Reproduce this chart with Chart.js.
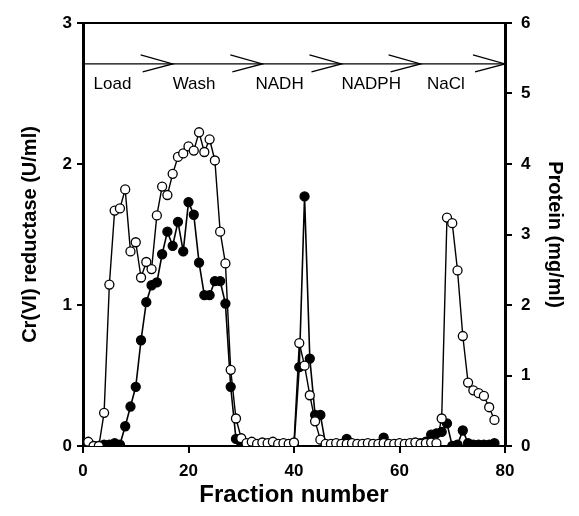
<!DOCTYPE html>
<html>
<head>
<meta charset="utf-8">
<script src="https://cdn.jsdelivr.net/npm/chart.js@4.4.1/dist/chart.umd.min.js"></script>
<style>
    html, body { margin: 0; padding: 0; background: #fff; }
</style>
</head>
<body>
<canvas id="chart" width="579" height="516"></canvas>
<script>
// Fraction numbers (x)
const fractions = [
    1, 2, 3, 4, 5, 6, 7, 8, 9, 10, 11, 12, 13, 14, 15, 16, 17, 18, 19, 20,
    21, 22, 23, 24, 25, 26, 27, 28, 29, 30, 31, 32, 33, 34, 35, 36, 37, 38, 39, 40,
    41, 42, 43, 44, 45, 46, 47, 48, 49, 50, 51, 52, 53, 54, 55, 56, 57, 58, 59, 60,
    61, 62, 63, 64, 65, 66, 67, 68, 69, 70, 71, 72, 73, 74, 75, 76, 77, 78
];

// Protein (mg/ml), open circles, right axis
const proteinMgMl = [
    0.06, 0.00, 0.00, 0.47, 2.29, 3.34, 3.37, 3.64, 2.76, 2.89,
    2.39, 2.61, 2.51, 3.27, 3.68, 3.56, 3.86, 4.10, 4.15, 4.25,
    4.19, 4.45, 4.17, 4.35, 4.05, 3.04, 2.59, 1.08, 0.39, 0.11,
    0.04, 0.06, 0.03, 0.05, 0.04, 0.06, 0.03, 0.04, 0.03, 0.05,
    1.46, 1.14, 0.72, 0.35, 0.09, 0.03, 0.03, 0.04, 0.03, 0.03,
    0.04, 0.03, 0.03, 0.04, 0.03, 0.03, 0.04, 0.03, 0.03, 0.04,
    0.03, 0.04, 0.05, 0.03, 0.04, 0.05, 0.04, 0.39, 3.24, 3.16,
    2.49, 1.56, 0.90, 0.79, 0.75, 0.71, 0.55, 0.37
];

// Cr(VI) reductase (U/ml), filled circles, left axis
const reductaseUMl = [
    0.00, 0.00, 0.00, 0.01, 0.01, 0.02, 0.01, 0.14, 0.28, 0.42,
    0.75, 1.02, 1.14, 1.16, 1.36, 1.52, 1.42, 1.59, 1.38, 1.73,
    1.64, 1.30, 1.07, 1.07, 1.17, 1.17, 1.01, 0.42, 0.05, 0.00,
    0.00, 0.00, 0.00, 0.00, 0.00, 0.00, 0.00, 0.00, 0.00, 0.00,
    0.56, 1.77, 0.62, 0.22, 0.22, 0.01, 0.00, 0.00, 0.01, 0.05,
    0.01, 0.01, 0.01, 0.01, 0.01, 0.01, 0.06, 0.01, 0.01, 0.01,
    0.01, 0.01, 0.01, 0.02, 0.03, 0.08, 0.09, 0.10, 0.16, 0.00,
    0.01, 0.11, 0.02, 0.01, 0.01, 0.01, 0.01, 0.02
];

const xTicks = [0, 20, 40, 60, 80];
const leftTicks = [0, 1, 2, 3];
const rightTicks = [0, 1, 2, 3, 4, 5, 6];

// Elution steps drawn across the top (fraction positions, left-axis level)
const stageNames = ['Load', 'Wash', 'NADH', 'NADPH', 'NaCl'];
const stageTextAt = [2, 17, 32.7, 49, 65.2];
const stageArrowEnd = [17, 34, 49, 64, 80];
const stageLineLevel = 2.71;
const stageTextLevel = 2.53;

const FONT = '"Liberation Sans", Arial, Helvetica, sans-serif';

function toPoints(ys) {
    return fractions.map((f, i) => ({ x: f, y: ys[i] }));
}

const stagePlugin = {
    id: 'stages',
    afterDatasetsDraw(chart) {
        const { ctx, chartArea, scales } = chart;
        const x = scales.x, y = scales.y;
        ctx.save();
        ctx.strokeStyle = '#000';
        // top frame line
        ctx.lineWidth = 2;
        ctx.beginPath();
        ctx.moveTo(chartArea.left, chartArea.top);
        ctx.lineTo(chartArea.right, chartArea.top);
        ctx.stroke();
        // step line with arrow heads
        const ly = y.getPixelForValue(stageLineLevel);
        ctx.lineWidth = 1.3;
        ctx.beginPath();
        ctx.moveTo(x.getPixelForValue(0), ly);
        ctx.lineTo(x.getPixelForValue(80), ly);
        ctx.stroke();
        stageArrowEnd.forEach(f => {
            const tx = x.getPixelForValue(f);
            ctx.beginPath();
            ctx.moveTo(tx - 32, ly - 9);
            ctx.lineTo(tx, ly);
            ctx.lineTo(tx - 30, ly + 8);
            ctx.stroke();
        });
        ctx.fillStyle = '#000';
        ctx.font = '17px ' + FONT;
        ctx.textBaseline = 'alphabetic';
        ctx.textAlign = 'left';
        stageNames.forEach((s, i) => {
            ctx.fillText(s, x.getPixelForValue(stageTextAt[i]), y.getPixelForValue(stageTextLevel));
        });
        ctx.restore();
    }
};

const tickFont = { family: FONT, size: 17, weight: 'bold' };
const titleFont = { family: FONT, size: 20, weight: 'bold' };

new Chart(document.getElementById('chart'), {
    type: 'line',
    data: {
        datasets: [
            {
                label: 'Protein (mg/ml)',
                data: toPoints(proteinMgMl),
                yAxisID: 'y1',
                borderColor: '#000',
                borderWidth: 1.4,
                pointRadius: 4.5,
                pointBorderWidth: 1.3,
                pointBackgroundColor: '#fff',
                pointBorderColor: '#000',
                tension: 0
            },
            {
                label: 'Cr(VI) reductase (U/ml)',
                data: toPoints(reductaseUMl),
                yAxisID: 'y',
                borderColor: '#000',
                borderWidth: 1.6,
                pointRadius: 4.5,
                pointBorderWidth: 1.3,
                pointBackgroundColor: '#000',
                pointBorderColor: '#000',
                tension: 0
            }
        ]
    },
    options: {
        responsive: false,
        animation: false,
        layout: { padding: { top: 23, left: 0, right: 0, bottom: 0 } },
        plugins: { legend: { display: false }, tooltip: { enabled: false } },
        scales: {
            x: {
                type: 'linear',
                min: 0, max: 80,
                afterBuildTicks: s => { s.ticks = xTicks.map(v => ({ value: v })); },
                afterFit: s => { s.height = 70; },
                border: { display: true, color: '#000', width: 2 },
                grid: { drawOnChartArea: false, drawTicks: true, tickLength: 7, color: '#000', lineWidth: 2 },
                ticks: { color: '#000', font: tickFont, padding: 8, maxRotation: 0 },
                title: { display: true, text: 'Fraction number', color: '#000', font: { family: FONT, size: 24, weight: 'bold' }, padding: { top: 0, bottom: 6 } }
            },
            y: {
                position: 'left',
                min: 0, max: 3,
                afterBuildTicks: s => { s.ticks = leftTicks.map(v => ({ value: v })); },
                afterFit: s => { s.width = 83; },
                border: { display: true, color: '#000', width: 3 },
                grid: { drawOnChartArea: false, drawTicks: true, tickLength: 6, color: '#000', lineWidth: 2 },
                ticks: { color: '#000', font: tickFont, padding: 5 },
                title: { display: true, text: 'Cr(VI) reductase (U/ml)', color: '#000', font: titleFont, padding: { top: 18, bottom: 0 } }
            },
            y1: {
                position: 'right',
                min: 0, max: 6,
                afterBuildTicks: s => { s.ticks = rightTicks.map(v => ({ value: v })); },
                afterFit: s => { s.width = 74; },
                border: { display: true, color: '#000', width: 3 },
                grid: { drawOnChartArea: false, drawTicks: true, tickLength: 7, color: '#000', lineWidth: 2 },
                ticks: { color: '#000', font: tickFont, padding: 9 },
                title: { display: true, text: 'Protein (mg/ml)', color: '#000', font: titleFont, padding: { top: 12, bottom: 0 } }
            }
        }
    },
    plugins: [stagePlugin]
});
</script>
</body>
</html>
